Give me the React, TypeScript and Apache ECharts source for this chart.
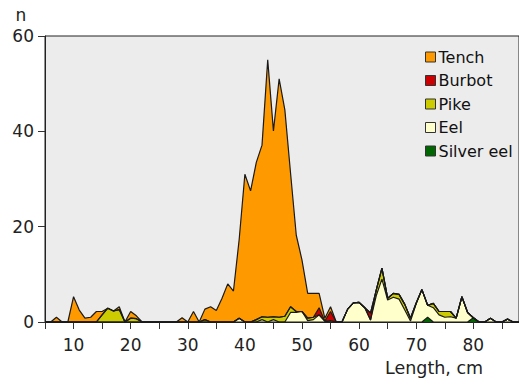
import React, { useEffect, useRef } from "react";
import * as echarts from "echarts";

// Length classes (cm)
const lengthsCm = [
  5, 6, 7, 8, 9, 10, 11, 12, 13, 14,
  15, 16, 17, 18, 19, 20, 21, 22, 23, 24,
  25, 26, 27, 28, 29, 30, 31, 32, 33, 34,
  35, 36, 37, 38, 39, 40, 41, 42, 43, 44,
  45, 46, 47, 48, 49, 50, 51, 52, 53, 54,
  55, 56, 57, 58, 59, 60, 61, 62, 63, 64,
  65, 66, 67, 68, 69, 70, 71, 72, 73, 74,
  75, 76, 77, 78, 79, 80, 81, 82, 83, 84,
  85, 86, 87, 88,
];

const tench = [
  0, 0, 1, 0, 0, 5.3, 2.5, 0.8, 1, 2.2,
  0.7, 0, 0, 0.6, 0, 1.4, 0.6, 0, 0, 0,
  0, 0, 0, 0, 0.9, 0, 2.2, 0, 2.2, 3.2,
  2.4, 5, 8, 6.5, 16.5, 31, 27.5, 33, 36, 54,
  39, 50, 43.3, 28, 16, 10.8, 5.2, 5, 3, 0.6,
  1, 0, 0, 0, 0, 0, 0, 0, 0, 0,
  0, 0, 0, 0, 0, 0, 0, 0, 0, 0,
  0, 0, 0, 0, 0, 0, 0, 0, 0, 0,
  0, 0, 0, 0,
];

const burbot = [
  0, 0, 0, 0, 0, 0, 0, 0, 0, 0,
  0, 0, 0, 0, 0, 0, 0, 0, 0, 0,
  0, 0, 0, 0, 0, 0, 0, 0, 0, 0,
  0, 0, 0, 0, 0, 0, 0, 0, 0, 0,
  0, 0, 0, 0, 0, 0, 0, 0, 1.5, 0,
  1.9, 0, 0, 0, 0, 0, 0, 1.5, 0, 0,
  0, 0, 0, 0, 0, 0, 0, 0, 0, 0,
  0, 0, 0, 0, 0, 0, 0, 0, 0, 0,
  0, 0, 0, 0,
];

const pike = [
  0, 0, 0, 0, 0, 0, 0, 0, 0, 0,
  1.5, 2.9, 2.3, 2.6, 0, 0.8, 0.7, 0, 0, 0,
  0, 0, 0, 0, 0, 0, 0, 0, 0.5, 0,
  0, 0, 0, 0, 0, 0, 0, 0.5, 0.6, 1,
  0.6, 1, 1.2, 1.2, 0.2, 0, 0.5, 0.5, 0, 0,
  0.3, 0, 0, 0, 0, 0, 0, 0, 1.2, 2.3,
  0.4, 0.8, 1.0, 1.2, 0.6, 0.2, 0, 0, 0.9, 0.7,
  1.2, 1.1, 0, 0, 0, 0, 0, 0, 0, 0,
  0, 0, 0, 0,
];

const eel = [
  0, 0, 0, 0, 0, 0, 0, 0, 0, 0,
  0, 0, 0, 0, 0, 0, 0, 0, 0, 0,
  0, 0, 0, 0, 0, 0, 0, 0, 0, 0,
  0, 0, 0, 0, 0.8, 0, 0, 0, 0.5, 0,
  0.5, 0, 0, 2, 2, 2.2, 0.3, 0.5, 1.5, 0.2,
  0, 0, 0, 2.7, 4, 4.1, 3, 0.4, 5.5, 9,
  4.6, 5.2, 4.8, 2.5, 0.2, 3.8, 6.8, 2.5, 3, 1.5,
  1, 1.1, 0.8, 5.3, 2, 0, 0, 0, 0.8, 0,
  0, 0.6, 0, 0,
];

const silverEel = [
  0, 0, 0, 0, 0, 0, 0, 0, 0, 0,
  0, 0, 0, 0, 0, 0, 0, 0, 0, 0,
  0, 0, 0, 0, 0, 0, 0, 0, 0, 0,
  0, 0, 0, 0, 0, 0, 0, 0, 0, 0,
  0, 0, 0, 0, 0, 0, 0, 0, 0, 0,
  0, 0, 0, 0, 0, 0, 0, 0, 0, 0,
  0, 0, 0, 0, 0, 0, 0, 1, 0, 0,
  0, 0, 0, 0, 0, 0.9, 0, 0, 0, 0,
  0, 0, 0, 0,
];

const legendOrder = ["Tench", "Burbot", "Pike", "Eel", "Silver eel"];
const yTicks = [0, 20, 40, 60];
const yAxisTitle = "n";
const xAxisTitle = "Length, cm";

export default function App() {
  const ref = useRef<HTMLDivElement>(null);

  useEffect(() => {
    document.body.style.margin = "0";
    const chart = echarts.init(ref.current as HTMLDivElement, null, { renderer: "svg" });
    const font = "'DejaVu Sans', Verdana, sans-serif";

    const mk = (name: string, values: number[], color: string) => ({
      name,
      type: "line",
      stack: "total",
      data: values,
      showSymbol: false,
      symbol: "none",
      color,
      itemStyle: { color },
      areaStyle: { color, opacity: 1 },
      lineStyle: { color: "#1a1a1a", width: 1.2 },
      emphasis: { disabled: true },
      silent: true,
    });

    chart.setOption({
      animation: false,
      grid: {
        left: 45,
        top: 36,
        width: 482.6,
        height: 286,
        show: true,
        backgroundColor: "#ECECEC",
        borderColor: "#222",
        borderWidth: 1,
      },
      xAxis: {
        type: "category",
        data: lengthsCm.map(String),
        boundaryGap: false,
        axisLine: { show: true, onZero: false, lineStyle: { color: "#222", width: 1 } },
        axisTick: {
          show: true,
          inside: false,
          length: 7,
          interval: (_i: number, v: string) => Number(v) % 5 === 0,
          lineStyle: { color: "#333" },
        },
        axisLabel: {
          interval: (_i: number, v: string) => Number(v) % 10 === 0,
          color: "#222",
          fontSize: 17,
          fontFamily: font,
          margin: 14,
        },
        splitLine: { show: false },
      },
      yAxis: {
        type: "value",
        min: yTicks[0],
        max: yTicks[yTicks.length - 1],
        interval: 20,
        axisLine: { show: true, lineStyle: { color: "#222", width: 1 } },
        axisTick: { show: true, inside: false, length: 7, lineStyle: { color: "#333" } },
        axisLabel: { color: "#222", fontSize: 17, fontFamily: font, margin: 11 },
        splitLine: { show: false },
      },
      legend: {
        data: legendOrder,
        orient: "vertical",
        left: 420,
        top: 44,
        icon: "rect",
        itemWidth: 10,
        itemHeight: 10,
        itemGap: 7.5,
        itemStyle: { borderColor: "#333", borderWidth: 1 },
        textStyle: { fontSize: 16, lineHeight: 16, fontFamily: font, color: "#111", padding: [0, 0, 0, -2] },
        selectedMode: false,
      },
      graphic: [
        {
          type: "text",
          x: 21,
          y: 15,
          style: { text: yAxisTitle, font: `17px ${font}`, fill: "#222", textAlign: "center", textVerticalAlign: "middle" },
        },
        {
          type: "text",
          x: 385,
          y: 368,
          style: { text: xAxisTitle, font: `17.5px ${font}`, fill: "#222", textAlign: "left", textVerticalAlign: "middle" },
        },
      ],
      series: [
        mk("Silver eel", silverEel, "#006600"),
        mk("Eel", eel, "#FFFFCC"),
        mk("Pike", pike, "#CCCC00"),
        mk("Burbot", burbot, "#CC0000"),
        mk("Tench", tench, "#FF9900"),
      ],
    });

    return () => chart.dispose();
  }, []);

  return <div ref={ref} style={{ width: 519, height: 378 }} />;
}
